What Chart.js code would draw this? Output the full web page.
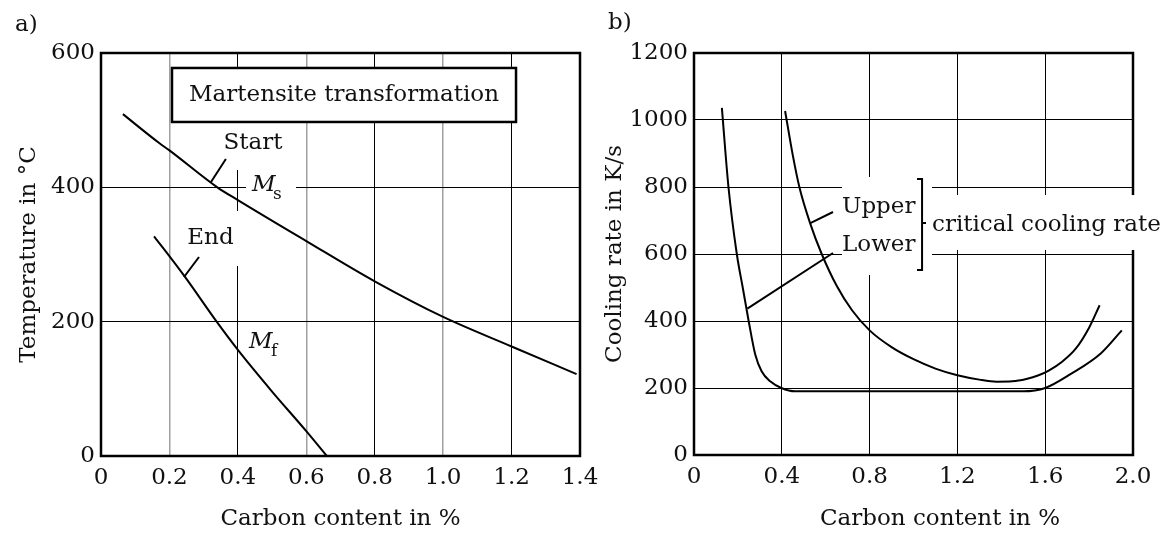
<!DOCTYPE html>
<html>
<head>
<meta charset="utf-8">
<script src="https://cdn.jsdelivr.net/npm/chart.js@4"></script>
<style>
    body { margin: 0; background: #fff; }
    .wrap { position: absolute; top: 0; height: 533px; }
    #leftWrap { left: 0; width: 610px; }
    #rightWrap { left: 600px; width: 563px; }
</style>
</head>
<body>
<div class="wrap" id="leftWrap"><canvas id="tempChart"></canvas></div>
<div class="wrap" id="rightWrap"><canvas id="rateChart"></canvas></div>
<script>
// chart a) data
const carbonTicksA = [0, 0.2, 0.4, 0.6, 0.8, 1.0, 1.2, 1.4];
const carbonLabelsA = ['0', '0.2', '0.4', '0.6', '0.8', '1.0', '1.2', '1.4'];
const tempTicks = [0, 200, 400, 600];
const tempLabels = ['0', '200', '400', '600'];
const msCarbon = [0.064, 0.17, 0.2, 0.34, 0.4, 0.6, 0.8, 1.0, 1.2, 1.39];
const msTemp = [509, 466, 455, 400, 381, 320, 260, 207, 163, 122];
const mfCarbon = [0.155, 0.175, 0.245, 0.338, 0.4, 0.5, 0.6, 0.66];
const mfTemp = [327, 314, 267, 200, 158, 96, 37, 0];

// chart b) data
const carbonTicksB = [0, 0.4, 0.8, 1.2, 1.6, 2.0];
const carbonLabelsB = ['0', '0.4', '0.8', '1.2', '1.6', '2.0'];
const rateTicks = [0, 200, 400, 600, 800, 1000, 1200];
const rateLabels = ['0', '200', '400', '600', '800', '1000', '1200'];
const upperCarbon = [0.415, 0.45, 0.48, 0.53, 0.58, 0.65, 0.72, 0.8, 0.9, 1.0, 1.1, 1.2, 1.3, 1.379, 1.45, 1.514, 1.57, 1.616, 1.68, 1.74, 1.8, 1.848];
const upperRate = [1027, 895, 800, 690, 603, 505, 432, 372, 322, 286, 258, 238, 225, 219, 220, 227, 238, 252, 280, 318, 380, 447];
const lowerCarbon = [0.127, 0.157, 0.195, 0.222, 0.249, 0.279, 0.308, 0.347, 0.398, 0.46, 1.0, 1.5, 1.6, 1.717, 1.853, 1.949];
const lowerRate = [1036, 800, 600, 500, 400, 300, 250, 220, 200, 190, 190, 190, 200, 242, 303, 372];

const FONT = '"DejaVu Serif", "Liberation Serif", serif';
Chart.defaults.font.family = FONT;
Chart.defaults.font.size = 23;
Chart.defaults.color = '#111';

const pts = (xs, ys) => xs.map((x, i) => ({ x: x, y: ys[i] }));

const curve = (xs, ys) => ({
    data: pts(xs, ys),
    showLine: true,
    borderColor: '#000',
    borderWidth: 2,
    pointRadius: 0,
    cubicInterpolationMode: 'monotone'
});

const at = (chart, x, y) => [chart.scales.x.getPixelForValue(x), chart.scales.y.getPixelForValue(y)];

// white boxes, frame, labels and leader lines
const notesPlugin = {
    id: 'notes',
    beforeDatasetsDraw(chart, args, opts) {
        const { ctx, chartArea: a } = chart;
        ctx.save();
        ctx.strokeStyle = '#000';
        ctx.lineWidth = 2.5;
        ctx.strokeRect(a.left, a.top, a.right - a.left, a.bottom - a.top);
        ctx.fillStyle = '#fff';
        (opts.blanks || []).forEach(b => {
            const p1 = at(chart, b[0], b[1]);
            const p2 = at(chart, b[2], b[3]);
            ctx.fillRect(p1[0], p1[1], p2[0] - p1[0], p2[1] - p1[1]);
        });
        ctx.restore();
    },
    afterDatasetsDraw(chart, args, opts) {
        const ctx = chart.ctx;
        ctx.save();
        if (opts.box) {
            const p1 = at(chart, opts.box[0], opts.box[1]);
            const p2 = at(chart, opts.box[2], opts.box[3]);
            ctx.fillStyle = '#fff';
            ctx.fillRect(p1[0], p1[1], p2[0] - p1[0], p2[1] - p1[1]);
            ctx.strokeStyle = '#000';
            ctx.lineWidth = 2.5;
            ctx.strokeRect(p1[0], p1[1], p2[0] - p1[0], p2[1] - p1[1]);
        }
        ctx.strokeStyle = '#000';
        ctx.lineWidth = 2;
        (opts.lines || []).forEach(line => {
            ctx.beginPath();
            line.forEach((q, i) => {
                const p = at(chart, q[0], q[1]);
                if (i === 0) ctx.moveTo(p[0], p[1]);
                else ctx.lineTo(p[0], p[1]);
            });
            ctx.stroke();
        });
        ctx.fillStyle = '#111';
        ctx.textBaseline = 'middle';
        (opts.texts || []).forEach(t => {
            const p = t.px !== undefined ? [t.px, t.py] : at(chart, t.x, t.y);
            ctx.font = (t.italic ? 'italic ' : '') + (t.size || 23) + 'px ' + FONT;
            ctx.textAlign = t.align || 'left';
            ctx.fillText(t.text, p[0], p[1]);
        });
        ctx.restore();
    }
};

const xAxis = (max, values, labels, title) => ({
    type: 'linear',
    min: 0,
    max: max,
    afterBuildTicks: s => { s.ticks = values.map(v => ({ value: v })); },
    afterFit: s => { s.height = 77; },
    ticks: {
        padding: 8,
        maxRotation: 0,
        autoSkip: false,
        callback: (v, i) => labels[i]
    },
    border: { display: false },
    title: title ? { display: true, text: title, padding: { top: 0, bottom: 0 } } : { display: false }
});

const yAxis = (max, values, labels, width, title, titlePad) => ({
    type: 'linear',
    min: 0,
    max: max,
    afterBuildTicks: s => { s.ticks = values.map(v => ({ value: v })); },
    afterFit: s => { s.width = width; },
    ticks: { padding: 6, callback: (v, i) => labels[i] },
    border: { display: false },
    grid: { color: '#000', lineWidth: 1, drawTicks: false },
    title: { display: true, text: title, padding: { top: titlePad, bottom: 0 } }
});

// chart a) martensite start / finish
const tempScaleX = xAxis(1.4, carbonTicksA, carbonLabelsA, 'Carbon content in %');
tempScaleX.grid = {
    color: c => (Math.round(c.tick.value * 10) % 4 === 2 ? '#a0a0a0' : '#000'),
    lineWidth: c => (Math.round(c.tick.value * 10) % 4 === 2 ? 1.5 : 1),
    drawTicks: false
};
const tempScaleY = yAxis(600, tempTicks, tempLabels, 101, 'Temperature in °C', 15);

new Chart(document.getElementById('tempChart'), {
    type: 'scatter',
    data: { datasets: [curve(msCarbon, msTemp), curve(mfCarbon, mfTemp)] },
    options: {
        responsive: true,
        maintainAspectRatio: false,
        animation: false,
        layout: { padding: { left: 0, right: 30, top: 53, bottom: 0 } },
        scales: { x: tempScaleX, y: tempScaleY },
        plugins: {
            legend: { display: false },
            tooltip: { enabled: false },
            notes: {
                blanks: [
                    [0.3595, 495.8, 0.5407, 425.8],
                    [0.4238, 422.8, 0.5699, 376.7],
                    [0.2426, 364.8, 0.4092, 282.9]
                ],
                box: [0.2075, 577.7, 1.2130, 497.3],
                lines: [
                    [[0.365, 442.2], [0.3215, 408]],
                    [[0.2864, 296.3], [0.2426, 266.5]]
                ],
                texts: [
                    { text: 'Martensite transformation', x: 0.7102, y: 537.5, align: 'center' },
                    { text: 'Start', x: 0.444, y: 465.4, align: 'center' },
                    { text: 'M', x: 0.4413, y: 403.5, italic: true },
                    { text: 's', x: 0.5027, y: 388.6, size: 17 },
                    { text: 'End', x: 0.32, y: 324.6, align: 'center' },
                    { text: 'M', x: 0.4326, y: 169.7, italic: true },
                    { text: 'f', x: 0.4969, y: 154.8, size: 17 },
                    { text: 'a)', px: 15, py: 25 }
                ]
            }
        }
    },
    plugins: [notesPlugin]
});

// chart b) critical cooling rate
const rateScaleX = xAxis(2.0, carbonTicksB, carbonLabelsB, null);
rateScaleX.grid = { color: '#000', lineWidth: 1, drawTicks: false };
rateScaleX.afterFit = s => { s.height = 78; };
const rateScaleY = yAxis(1200, rateTicks, rateLabels, 94, 'Cooling rate in K/s', 1);

new Chart(document.getElementById('rateChart'), {
    type: 'scatter',
    data: { datasets: [curve(upperCarbon, upperRate), curve(lowerCarbon, lowerRate)] },
    options: {
        responsive: true,
        maintainAspectRatio: false,
        animation: false,
        layout: { padding: { left: 0, right: 30, top: 53, bottom: 0 } },
        scales: { x: rateScaleX, y: rateScaleY },
        plugins: {
            legend: { display: false },
            tooltip: { enabled: false },
            notes: {
                blanks: [
                    [0.6743, 829.9, 1.0843, 537.3],
                    [1.066, 776, 2.132, 612]
                ],
                lines: [
                    [[0.6333, 725.4], [0.53, 692]],
                    [[0.6333, 603], [0.243, 437]],
                    [[1.016, 824], [1.039, 824], [1.039, 552], [1.016, 552]],
                    [[1.039, 692.5], [1.057, 692.5]]
                ],
                texts: [
                    { text: 'Upper', x: 0.6743, y: 740.3 },
                    { text: 'Lower', x: 0.6743, y: 626.9 },
                    { text: 'critical cooling rate', x: 1.0843, y: 686.6 },
                    { text: 'Carbon content in %', px: 340, py: 519, align: 'center' },
                    { text: 'b)', px: 8, py: 23 }
                ]
            }
        }
    },
    plugins: [notesPlugin]
});
</script>
</body>
</html>
